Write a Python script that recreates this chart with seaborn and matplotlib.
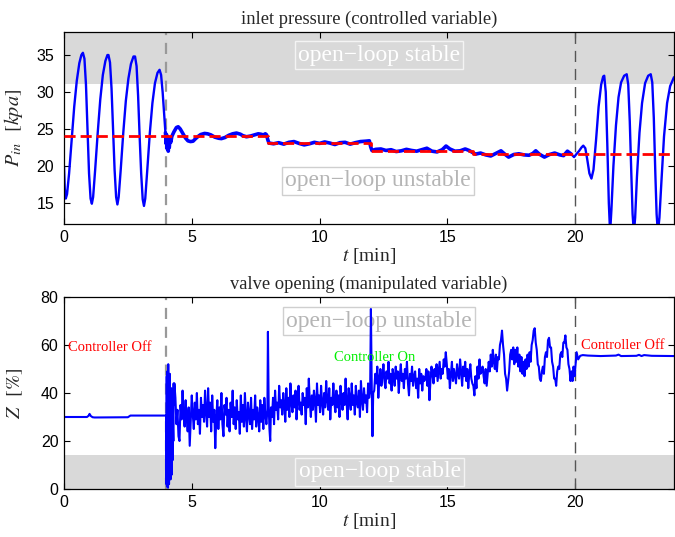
import numpy as np
import matplotlib
matplotlib.use("Agg")
import matplotlib.pyplot as plt
import seaborn as sns

# ---- inlet pressure (top panel) ----
p_time = [0.00, 0.03, 0.07, 0.12, 0.20, 0.30, 0.40, 0.50, 0.60, 0.68, 0.74, 0.80, 0.86, 0.92, 0.98,
          1.04, 1.09, 1.14, 1.22, 1.32, 1.42, 1.52, 1.62, 1.70, 1.74, 1.80, 1.86, 1.92, 1.98,
          2.04, 2.09, 2.14, 2.22, 2.32, 2.42, 2.52, 2.62, 2.72, 2.78, 2.84, 2.90, 2.96, 3.02,
          3.08, 3.13, 3.18, 3.26, 3.36, 3.46, 3.56, 3.66, 3.74, 3.80, 3.86, 3.92, 3.97,
          4.00, 4.02, 4.04, 4.06, 4.08, 4.10, 4.12, 4.15, 4.18, 4.22, 4.30, 4.40, 4.47, 4.55,
          4.65, 4.75, 4.85, 4.95, 5.05, 5.15, 5.25, 5.35, 5.50, 5.62, 5.75, 5.90, 6.05, 6.16,
          6.30, 6.45, 6.60, 6.75, 6.90, 7.00, 7.14, 7.30, 7.45, 7.60, 7.70, 7.80, 7.88, 7.93,
          7.97, 8.02, 8.20, 8.40, 8.60, 8.80, 9.00, 9.20, 9.40, 9.60, 9.80, 10.00, 10.20, 10.40,
          10.60, 10.80, 11.00, 11.20, 11.40, 11.60, 11.80, 11.95, 12.00, 12.05, 12.20, 12.40,
          12.60, 12.80, 13.00, 13.20, 13.40, 13.60, 13.80, 14.00, 14.20, 14.40, 14.60, 14.80,
          14.95, 15.10, 15.30, 15.50, 15.70, 15.85, 16.00, 16.10, 16.30, 16.50, 16.70, 16.90,
          17.10, 17.25, 17.40, 17.60, 17.80, 18.00, 18.20, 18.35, 18.46, 18.60, 18.80, 19.00,
          19.20, 19.40, 19.55, 19.70, 19.85, 19.96, 20.05, 20.15, 20.25, 20.32, 20.40, 20.48,
          20.56, 20.64, 20.72, 20.82, 20.92, 21.02, 21.10, 21.14, 21.20, 21.26, 21.32, 21.37,
          21.42, 21.50, 21.60, 21.70, 21.80, 21.92, 22.02, 22.08, 22.14, 22.20, 22.25, 22.30,
          22.35, 22.42, 22.52, 22.62, 22.74, 22.86, 22.96, 23.02, 23.08, 23.14, 23.19, 23.24,
          23.30, 23.38, 23.48, 23.60, 23.72, 23.87]
p_value = [20.0, 17.0, 15.6, 16.2, 19.0, 23.5, 28.0, 31.5, 33.9, 35.0, 35.3, 34.5, 31.0, 25.0, 19.0,
           15.6, 14.9, 15.8, 19.5, 24.5, 29.0, 32.3, 34.2, 35.0, 35.0, 34.0, 30.5, 25.0, 19.5,
           15.8, 14.8, 15.8, 19.5, 24.5, 28.8, 31.8, 33.8, 34.8, 34.8, 33.5, 29.5, 24.0, 19.0,
           15.5, 14.6, 15.6, 19.5, 24.5, 28.5, 31.2, 32.6, 33.0, 32.3, 30.0, 27.0, 24.5,
           23.0, 24.2, 22.3, 23.8, 22.0, 23.5, 22.5, 23.8, 23.2, 24.0, 24.6, 25.2, 25.3, 25.0,
           24.4, 23.8, 23.4, 23.3, 23.35, 23.7, 24.0, 24.25, 24.4, 24.35, 24.2, 23.9, 23.75, 23.7,
           23.85, 24.15, 24.35, 24.45, 24.3, 24.1, 23.95, 24.05, 24.2, 24.35, 24.3, 24.2, 24.35, 24.2,
           23.6, 23.1, 23.0, 23.15, 22.95, 23.2, 23.3, 23.05, 22.85, 23.0, 23.2, 23.05, 23.25, 23.1,
           22.9, 23.15, 23.2, 22.95, 23.15, 23.3, 23.35, 23.4, 22.6, 22.1, 22.25, 22.3,
           22.1, 22.2, 21.95, 22.05, 22.25, 22.1, 22.0, 22.2, 22.4, 22.0, 21.9, 22.2,
           22.7, 22.3, 22.0, 22.05, 22.3, 22.1, 21.8, 21.6, 21.75, 21.5, 21.35, 21.7,
           22.05, 21.6, 21.2, 21.55, 21.65, 21.5, 21.45, 21.7, 22.05, 21.6, 21.2, 21.55,
           21.75, 21.5, 21.4, 22.0, 21.6, 21.2, 21.6, 22.0, 22.5, 22.75, 22.4, 20.8,
           19.0, 18.3, 19.5, 23.5, 28.0, 31.0, 32.1, 32.2, 30.0, 23.0, 15.0, 11.0,
           14.0, 20.0, 25.5, 29.3, 31.3, 32.2, 32.4, 31.0, 26.0, 19.0, 13.5, 11.0,
           13.0, 18.5, 24.5, 28.5, 31.2, 32.2, 32.4, 31.3, 26.5, 19.0, 13.5, 11.0,
           13.0, 18.0, 24.0, 28.5, 30.8, 32.0]

# setpoint (red dashed)
sp_time = [0, 8, 8, 12, 12, 16, 16, 23.87]
sp_value = [24.05, 24.05, 23.1, 23.1, 22.05, 22.05, 21.6, 21.6]

# ---- valve opening (bottom panel) ----
z_off1_t = [0, 0.9, 0.97, 1.0, 1.05, 1.12, 1.2, 2.5, 2.6, 3.99]
z_off1 = [30, 30, 30.6, 31.3, 30.4, 29.9, 29.8, 29.9, 30.6, 30.6]

z_burst = [30.5, 2, 47, 1, 49, 3, 45, 0.5, 52, 4, 44, 2, 40, 5, 48, 6, 38, 4, 35, 8,
           42, 30, 6, 36, 28, 12, 40, 25, 20, 44, 35]  # 4.00 .. 4.30, every 0.01 min

z_seg1 = [44, 38, 27, 33, 22, 20, 35, 29, 41, 31,
          26, 37, 30, 24, 34, 18, 28, 39, 31, 25,
          36, 29, 40, 27, 33, 23, 38, 30, 35, 28,
          41, 32, 26, 42, 30, 36, 24, 39, 28, 33,
          17, 30, 37, 25, 34, 29, 40, 27, 22, 35,
          31, 38, 26, 33, 24, 36, 30, 41, 27, 34,
          25, 37, 29, 32, 23, 39, 28, 35, 26, 40,
          30, 24, 36, 31, 27, 38, 25, 33, 29, 39,
          26, 34, 30, 24, 37, 28, 35, 25, 38, 31,
          27, 33]  # 4.32 .. 7.96, every 0.04 min

z_spike1_t = [7.98, 8.01, 8.04, 8.07, 8.10]
z_spike1 = [65.5, 35, 25, 20, 34]

z_seg2 = [30, 38, 27, 41, 33, 36, 29, 43, 34, 37,
          31, 40, 35, 28, 42, 33, 38, 30, 44, 36,
          32, 39, 34, 41, 29, 37, 43, 33, 36, 31,
          40, 35, 38, 27, 42, 34, 46, 36, 30, 39,
          33, 41, 37, 28, 44, 35, 39, 32, 43, 36,
          31, 40, 34, 45, 37, 33, 42, 29, 38, 35,
          44, 36, 32, 41, 34, 39, 30, 43, 37, 33,
          40, 35, 46, 36, 29, 42, 38, 33, 44, 35,
          39, 31, 43, 36, 34, 41, 30, 45, 37, 33,
          42, 36, 39, 32, 44, 38, 41]  # 8.14 .. 11.98

z_spike2_t = [12.01, 12.04, 12.07, 12.10]
z_spike2 = [75, 45, 22, 40]

z_seg3 = [41, 48, 44, 51, 38, 46, 50, 43, 47, 52,
          45, 42, 49, 46, 53, 44, 48, 41, 50, 47,
          43, 51, 46, 49, 40, 47, 52, 45, 48, 42,
          50, 46, 53, 44, 39, 48, 45, 51, 43, 47,
          49, 42, 46, 38, 50, 44, 48, 41, 47, 45,
          46, 50, 43, 49, 37, 45, 51, 48, 44, 50,
          47, 52, 45, 49, 53, 46, 50, 48, 54, 51,
          57, 52, 46, 50, 42, 48, 53, 45, 50, 47,
          44, 52, 48, 46, 54, 49, 43, 51, 47, 53,
          45, 50, 42, 48, 52, 46, 44]  # 12.14 .. 15.98

z_seg4 = [43, 39, 47, 42, 51, 46, 54, 48, 49, 51,
          47, 44, 50, 43, 48, 53, 49, 56, 51, 58,
          53, 50, 56, 49, 55, 54, 60, 62, 66, 60,
          56, 48, 46, 41, 45, 49, 56, 58, 54, 59,
          52, 58, 53, 59, 51, 56, 49, 55, 48, 53,
          47, 54, 50, 56, 51, 57, 53, 60, 62, 66,
          67, 61, 58, 52, 51, 46, 45, 49, 51, 48,
          55, 57, 55, 62, 63, 59, 59, 53, 51, 46,
          46, 43, 49, 51, 50, 56, 57, 55, 61, 61,
          64, 59, 58, 52, 50, 45, 49, 45, 51, 47]  # 16.02 .. 19.98

z_off2_t = [20.02, 20.06, 20.12, 20.2, 20.3, 20.5, 21.0, 21.6, 21.7, 21.8,
            22.4, 22.5, 22.6, 22.7, 23.0, 23.87]
z_off2 = [52, 57, 54, 55.5, 55.8, 55.6, 55.4, 55.6, 56.0, 55.4,
          55.5, 55.9, 55.4, 55.8, 55.5, 55.4]

# sample times of the controlled stretch
z_time = np.concatenate([
    z_off1_t,
    np.round(np.arange(len(z_burst)) * 0.01 + 4.00, 3),
    np.round(np.arange(len(z_seg1)) * 0.04 + 4.32, 3),
    z_spike1_t,
    np.round(np.arange(len(z_seg2)) * 0.04 + 8.14, 3),
    z_spike2_t,
    np.round(np.arange(len(z_seg3)) * 0.04 + 12.14, 3),
    np.round(np.arange(len(z_seg4)) * 0.04 + 16.02, 3),
    z_off2_t])
z_value = np.concatenate([z_off1, z_burst, z_seg1, z_spike1, z_seg2,
                          z_spike2, z_seg3, z_seg4, z_off2])

switch_times = [4, 20]

# ---- style ----
sns.set_theme(style="ticks")
plt.rcParams['font.family'] = ['Liberation Sans', 'DejaVu Sans']
plt.rcParams['mathtext.fontset'] = 'stix'

serif = ['Liberation Serif', 'DejaVu Serif']
xmax = 23.87

fig = plt.figure(figsize=(6.75, 5.37), dpi=100)
ax1 = fig.add_axes([0.0948, 0.5829, 0.9037, 0.3575])
ax2 = fig.add_axes([0.0948, 0.0894, 0.9037, 0.3575])


def open_loop_box(ax, x, y, label, stable):
    if stable:
        ax.text(x, y, label, ha='center', va='center', fontsize=17, family=serif,
                color='white', zorder=1,
                bbox=dict(boxstyle='square,pad=0.14', fc='#d9d9d9', ec='#f4f4f4', lw=1))
    else:
        ax.text(x, y, label, ha='center', va='center', fontsize=17, family=serif,
                color='#b5b5b5', zorder=1,
                bbox=dict(boxstyle='square,pad=0.14', fc='white', ec='#cfcfcf', lw=1))


def style_axes(ax, pad):
    for s in ax.spines.values():
        s.set_color('black')
        s.set_linewidth(0.9)
    ax.tick_params(direction='in', top=True, right=True, length=4, width=0.8,
                   labelsize=11.5, colors='black')
    ax.tick_params(axis='y', pad=pad)
    ax.tick_params(axis='x', pad=4)
    ax.set_xlim(0, xmax)
    ax.set_xticks([0, 5, 10, 15, 20])
    ax.set_xlabel(r'$t$ [min]', family=serif, fontsize=14, labelpad=1)


# top panel
ax1.axhspan(31.1, 40, color='#d9d9d9', lw=0, zorder=0)
open_loop_box(ax1, 12.33, 35.0, 'open\u2212loop stable', True)
open_loop_box(ax1, 12.3, 18.0, 'open\u2212loop unstable', False)
sns.lineplot(x=p_time[:56], y=p_value[:56], estimator=None, sort=False, color='#0000ff',
             lw=1.7, ax=ax1, zorder=2)
sns.lineplot(x=p_time[55:165], y=p_value[55:165], estimator=None, sort=False,
             color='#0000ff', lw=2.6, ax=ax1, zorder=2)
sns.lineplot(x=p_time[164:], y=p_value[164:], estimator=None, sort=False, color='#0000ff',
             lw=1.7, ax=ax1, zorder=2)
ax1.plot(sp_time, sp_value, color='#ff0000', lw=2, dashes=(4, 1.8), zorder=3)
ax1.axvline(switch_times[0], color='#999999', lw=1.6, dashes=(5, 3.5), zorder=1.5)
ax1.axvline(switch_times[1], color='#555555', lw=1.0, dashes=(8, 5), zorder=1.5)
ax1.set_ylim(12.16, 38.11)
ax1.set_yticks([15, 20, 25, 30, 35])
style_axes(ax1, 7)
ax1.set_ylabel(r'$P_{in}$  $[kpa]$', fontsize=14.5)
ax1.yaxis.set_label_coords(-0.064, 0.5)
ax1.set_title('inlet pressure (controlled variable)', family=serif, fontsize=13.3, pad=6)

# bottom panel
ax2.axhspan(0, 14.2, color='#d9d9d9', lw=0, zorder=0)
open_loop_box(ax2, 12.33, 70.0, 'open\u2212loop unstable', False)
open_loop_box(ax2, 12.36, 7.1, 'open\u2212loop stable', True)
sns.lineplot(x=z_time, y=z_value, estimator=None, sort=False, color='#0000ff',
             lw=1.5, ax=ax2, zorder=2)
ax2.axvline(switch_times[0], color='#999999', lw=1.6, dashes=(5, 3.5), zorder=1.5)
ax2.axvline(switch_times[1], color='#555555', lw=1.0, dashes=(8, 5), zorder=1.5)
ax2.set_ylim(0, 80)
ax2.set_yticks([0, 20, 40, 60, 80])
style_axes(ax2, 4)
ax2.set_ylabel(r'$Z$  $[\%]$', fontsize=14.5)
ax2.yaxis.set_label_coords(-0.064, 0.5)
ax2.set_title('valve opening (manipulated variable)', family=serif, fontsize=13.3, pad=6)

ax2.text(0.16, 58.8, 'Controller Off', color='#ff0000', family=serif, fontsize=10.5,
         ha='left', va='center', zorder=4)
ax2.text(12.15, 55.0, 'Controller On', color='#00ee00', family=serif, fontsize=10.5,
         ha='center', va='center', zorder=4)
ax2.text(20.23, 60.0, 'Controller Off', color='#ff0000', family=serif, fontsize=10.5,
         ha='left', va='center', zorder=4)

fig.savefig('out.png', dpi=100)
